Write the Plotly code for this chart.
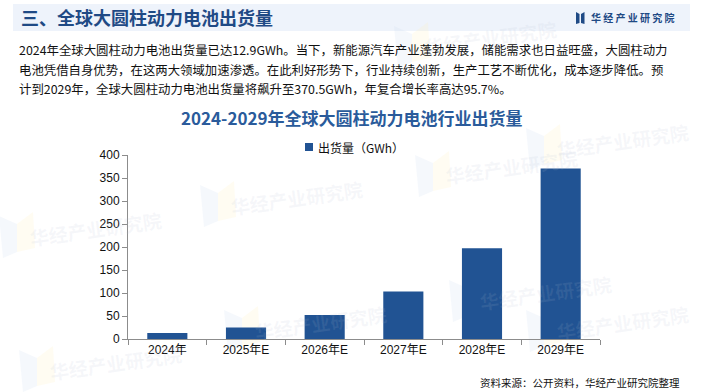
import plotly.graph_objects as go

categories = ["2024年", "2025年E", "2026年E", "2027年E", "2028年E", "2029年E"]
shipments = [12.9, 25.2, 52.0, 103.5, 197.5, 370.5]
series_name = "出货量（GWh）"
y_ticks = [0, 50, 100, 150, 200, 250, 300, 350, 400]

header_title = "三、全球大圆柱动力电池出货量"
logo_text = "华 经 产 业 研 究 院"
para_lines = [
    "2024年全球大圆柱动力电池出货量已达12.9GWh。当下，新能源汽车产业蓬勃发展，储能需求也日益旺盛，大圆柱动力",
    "电池凭借自身优势，在这两大领域加速渗透。在此利好形势下，行业持续创新，生产工艺不断优化，成本逐步降低。预",
    "计到2029年，全球大圆柱动力电池出货量将飙升至370.5GWh，年复合增长率高达95.7%。",
]
chart_title = "2024-2029年全球大圆柱动力电池行业出货量"
source_text = "资料来源：公开资料，华经产业研究院整理"
watermark = "华经产业研究院"

W, H = 704, 392
CJK = "Noto Sans CJK SC"
LAT = "Liberation Sans, Noto Sans CJK SC"
BLUE = "#215393"
DARK = "#1f4a85"


def px(x):
    return x / W


def py(y):
    return 1 - y / H


fig = go.Figure()
fig.add_trace(go.Bar(
    x=categories, y=shipments, name=series_name,
    marker=dict(color=BLUE, line=dict(width=0)),
    width=0.51, showlegend=False, hoverinfo="skip",
))

shapes = []
annotations = []

# header band
shapes.append(dict(type="rect", xref="paper", yref="paper",
                   x0=px(13), x1=px(690), y0=py(31), y1=py(4),
                   fillcolor="#eef3fb", line=dict(width=0), layer="below"))

# watermarks (faint)
wm_positions = [(296, 197), (511, 167), (545, 292), (320, 322), (115, 362),
                (95, 228), (490, 38), (622, 140), (622, 322)]
for (wx, wy) in wm_positions:
    annotations.append(dict(x=px(wx), y=py(wy), xref="paper", yref="paper",
                            text=f"<b>{watermark}</b>", showarrow=False,
                            font=dict(family=CJK, size=19, color="rgba(175,188,210,0.12)"),
                            textangle=-8, xanchor="center", yanchor="middle"))
    ix = wx - 78
    shapes.append(dict(type="path", xref="paper", yref="paper",
                       path=f"M {px(ix-18)},{py(wy-12)} L {px(ix)},{py(wy-4)} L {px(ix)},{py(wy+24)} L {px(ix-14)},{py(wy+30)} Z",
                       fillcolor="rgba(200,218,240,0.18)", line=dict(width=0), layer="below"))
    shapes.append(dict(type="path", xref="paper", yref="paper",
                       path=f"M {px(ix)},{py(wy-4)} L {px(ix+16)},{py(wy-16)} L {px(ix+18)},{py(wy+20)} L {px(ix)},{py(wy+24)} Z",
                       fillcolor="rgba(255,240,190,0.2)", line=dict(width=0), layer="below"))

# header title
annotations.append(dict(x=px(19), y=py(17.5), xref="paper", yref="paper",
                        text=f"<b>{header_title}</b>", showarrow=False,
                        font=dict(family=CJK, size=18, color=DARK),
                        xanchor="left", yanchor="middle"))
# logo icon
shapes.append(dict(type="path", xref="paper", yref="paper",
                   path=f"M {px(576)},{py(12)} L {px(579.5)},{py(14)} L {px(579.5)},{py(23)} L {px(576)},{py(24)} Z",
                   fillcolor=DARK, line=dict(width=0)))
shapes.append(dict(type="path", xref="paper", yref="paper",
                   path=f"M {px(581)},{py(14)} L {px(584.5)},{py(12)} L {px(584.5)},{py(24)} L {px(581)},{py(23)} Z",
                   fillcolor=DARK, line=dict(width=0)))
annotations.append(dict(x=px(589), y=py(17.5), xref="paper", yref="paper",
                        text=f"<b>{logo_text}</b>", showarrow=False,
                        font=dict(family=CJK, size=10, color=DARK),
                        xanchor="left", yanchor="middle"))

# paragraph
for i, line in enumerate(para_lines):
    annotations.append(dict(x=px(17), y=py(50 + i * 19.5), xref="paper", yref="paper",
                            text=line, showarrow=False,
                            font=dict(family=CJK, size=12.4, color="#111111"),
                            xanchor="left", yanchor="middle"))

# chart title
annotations.append(dict(x=px(352), y=py(118), xref="paper", yref="paper",
                        text=f"<b>{chart_title}</b>", showarrow=False,
                        font=dict(family=CJK, size=17, color="#2a5b9b"),
                        xanchor="center", yanchor="middle"))

# manual legend
shapes.append(dict(type="rect", xref="paper", yref="paper",
                   x0=px(305), x1=px(313), y0=py(151), y1=py(143),
                   fillcolor=BLUE, line=dict(width=0)))
annotations.append(dict(x=px(316), y=py(147), xref="paper", yref="paper",
                        text=series_name, showarrow=False,
                        font=dict(family=CJK, size=12, color="#111111"),
                        xanchor="left", yanchor="middle"))

# source
annotations.append(dict(x=px(682), y=py(382), xref="paper", yref="paper",
                        text=source_text, showarrow=False,
                        font=dict(family=CJK, size=10.5, color="#111111"),
                        xanchor="right", yanchor="middle"))

fig.update_layout(
    width=W, height=H,
    margin=dict(l=0, r=0, t=0, b=0, autoexpand=False),
    paper_bgcolor="white", plot_bgcolor="rgba(0,0,0,0)",
    bargap=0.49,
    showlegend=False,
    hovermode=False,
    xaxis=dict(domain=[px(128), px(600)], showline=True, linecolor="#8c8c8c", linewidth=1,
               ticks="outside", tickson="boundaries", ticklen=5, tickcolor="#8c8c8c",
               showgrid=False, automargin=False,
               tickfont=dict(family=LAT, size=12, color="#111111")),
    yaxis=dict(domain=[1 - 339 / H, 1 - 155 / H], range=[0, 400], tickvals=y_ticks,
               showline=True, linecolor="#8c8c8c", linewidth=1, automargin=False,
               ticks="outside", ticklen=5, tickcolor="#8c8c8c", showgrid=False,
               zeroline=False, tickfont=dict(family=LAT, size=12, color="#111111")),
    shapes=shapes, annotations=annotations,
)

fig.write_html("out.html", config={"displayModeBar": False, "staticPlot": True})
with open("out.html", "r", encoding="utf-8") as f:
    html = f.read()
html = html.replace("<head>", "<head><style>html,body{margin:0;padding:0;overflow:hidden;}</style>", 1)
with open("out.html", "w", encoding="utf-8") as f:
    f.write(html)
